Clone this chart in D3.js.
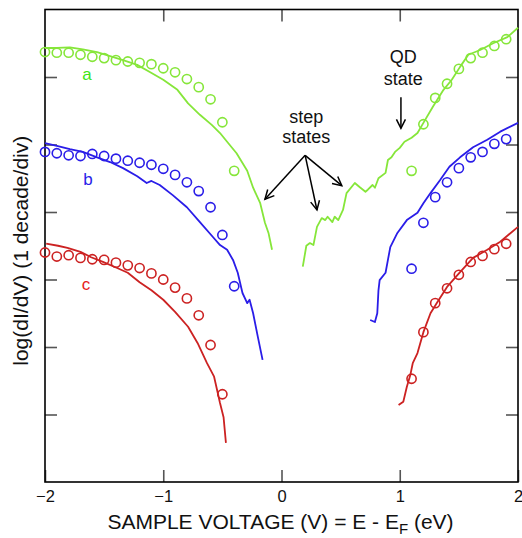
<!DOCTYPE html>
<html>
<head>
<meta charset="utf-8">
<script src="https://cdn.jsdelivr.net/npm/d3@7"></script>
<style>
  html, body { margin: 0; padding: 0; background: #fff; }
  svg { display: block; font-family: "Liberation Sans", Arial, Helvetica, sans-serif; }
</style>
</head>
<body>
<svg id="chart" width="522" height="538"></svg>
<script>
// Sample voltage (V) at which the model points are plotted
const modelVoltsNeg = [-2.0, -1.9, -1.8, -1.7, -1.6, -1.5, -1.4, -1.3, -1.2, -1.1, -1.0, -0.9, -0.8, -0.7, -0.6, -0.5, -0.4];
const modelVoltsNegC = [-2.0, -1.9, -1.8, -1.7, -1.6, -1.5, -1.4, -1.3, -1.2, -1.1, -1.0, -0.9, -0.8, -0.7, -0.6, -0.5];
const modelVoltsPos = [1.1, 1.2, 1.3, 1.4, 1.5, 1.6, 1.7, 1.8, 1.9];

// Model log(dI/dV), in decades (open circles)
const modelA_neg = [6.37, 6.36, 6.36, 6.33, 6.30, 6.28, 6.25, 6.23, 6.21, 6.19, 6.13, 6.07, 5.97, 5.85, 5.67, 5.33, 4.61];
const modelA_pos = [4.61, 5.30, 5.69, 5.90, 6.12, 6.28, 6.36, 6.46, 6.56];
const modelB_neg = [4.89, 4.87, 4.84, 4.83, 4.86, 4.83, 4.79, 4.76, 4.73, 4.70, 4.64, 4.55, 4.44, 4.31, 4.07, 3.66, 2.90];
const modelB_pos = [3.16, 3.84, 4.22, 4.44, 4.65, 4.81, 4.89, 5.01, 5.08];
const modelC_neg = [3.40, 3.34, 3.36, 3.32, 3.30, 3.29, 3.25, 3.21, 3.17, 3.09, 3.00, 2.88, 2.72, 2.47, 2.03, 1.30];
const modelC_pos = [1.53, 2.22, 2.65, 2.87, 3.07, 3.26, 3.35, 3.45, 3.53];

// Measured spectra (solid lines): voltage and log(dI/dV) per branch
const measA_neg_V = [-2.00, -1.90, -1.79, -1.68, -1.56, -1.45, -1.34, -1.22, -1.11, -1.00, -0.88, -0.79, -0.69, -0.59, -0.52, -0.46, -0.38, -0.29, -0.24, -0.18, -0.14, -0.11, -0.08];
const measA_neg_L = [6.43, 6.43, 6.44, 6.41, 6.37, 6.31, 6.25, 6.18, 6.07, 5.96, 5.81, 5.61, 5.44, 5.29, 5.17, 5.04, 4.87, 4.61, 4.36, 4.13, 3.84, 3.69, 3.44];
const measA_pos_V = [0.18, 0.21, 0.24, 0.27, 0.30, 0.34, 0.37, 0.39, 0.43, 0.45, 0.48, 0.52, 0.55, 0.62, 0.66, 0.71, 0.73, 0.77, 0.79, 0.82, 0.88, 0.90, 0.93, 0.96, 1.00, 1.04, 1.10, 1.15, 1.20, 1.28, 1.37, 1.44, 1.51, 1.58, 1.68, 1.79, 1.91, 2.00];
const measA_pos_L = [3.19, 3.50, 3.54, 3.51, 3.78, 3.91, 3.88, 3.93, 3.85, 3.93, 3.88, 4.03, 4.28, 4.43, 4.37, 4.30, 4.33, 4.40, 4.36, 4.50, 4.58, 4.77, 4.81, 4.89, 4.95, 5.04, 5.10, 5.17, 5.32, 5.56, 5.81, 5.96, 6.15, 6.33, 6.40, 6.50, 6.59, 6.73];
const measB_neg_V = [-2.00, -1.90, -1.79, -1.68, -1.56, -1.45, -1.34, -1.22, -1.14, -1.10, -1.03, -0.92, -0.80, -0.69, -0.58, -0.52, -0.46, -0.41, -0.37, -0.33, -0.29, -0.27, -0.24, -0.20, -0.16];
const measB_neg_L = [5.02, 4.98, 4.93, 4.89, 4.81, 4.74, 4.65, 4.53, 4.43, 4.46, 4.40, 4.25, 4.07, 3.85, 3.63, 3.51, 3.44, 3.29, 3.10, 2.80, 2.65, 2.70, 2.50, 2.15, 1.81];
const measB_pos_V = [0.75, 0.79, 0.81, 0.82, 0.83, 0.88, 0.90, 0.92, 0.98, 1.06, 1.15, 1.20, 1.26, 1.34, 1.42, 1.51, 1.62, 1.74, 1.85, 2.00];
const measB_pos_L = [2.40, 2.37, 2.50, 2.84, 2.99, 3.10, 3.29, 3.48, 3.69, 3.88, 3.99, 4.13, 4.28, 4.47, 4.67, 4.81, 4.96, 5.07, 5.19, 5.32];
const measC_neg_V = [-1.99, -1.89, -1.81, -1.70, -1.61, -1.51, -1.39, -1.30, -1.20, -1.10, -1.00, -0.90, -0.79, -0.71, -0.63, -0.57, -0.52, -0.49, -0.47];
const measC_neg_L = [3.53, 3.50, 3.47, 3.41, 3.33, 3.26, 3.17, 3.10, 2.96, 2.84, 2.70, 2.52, 2.30, 2.06, 1.76, 1.56, 1.17, 0.96, 0.58];
const measC_pos_V = [0.99, 1.03, 1.06, 1.09, 1.11, 1.15, 1.20, 1.26, 1.32, 1.40, 1.51, 1.62, 1.74, 1.85, 2.00];
const measC_pos_L = [1.14, 1.19, 1.41, 1.59, 1.76, 1.91, 2.22, 2.50, 2.67, 2.89, 3.11, 3.32, 3.44, 3.56, 3.78];

// Axis ticks
const xTicks = [-2, -1, 0, 1, 2];
const yTicks = [1, 2, 3, 4, 5, 6];

const colors = { a: "#86e63a", b: "#2a1de8", c: "#cc2222" };
const labelColors = { a: "#3ee614", b: "#2a1de8", c: "#e62020" };

const svg = d3.select("#chart");
const margin = { left: 45, top: 9.5, right: 4, bottom: 56 };
const W = 522, H = 538;
const x = d3.scaleLinear().domain([-2, 2]).range([margin.left, W - margin.right]);
const y = d3.scaleLinear().domain([0, 7]).range([H - margin.bottom, margin.top]);

// Inward ticks on all four sides
const tickLen = 12;
const axes = svg.append("g");
axes.append("g").attr("transform", `translate(0,${y(0)})`)
  .call(d3.axisBottom(x).tickValues(xTicks).tickSizeInner(-tickLen).tickSizeOuter(0).tickPadding(8.3).tickFormat(d3.format("d")));
axes.append("g").attr("transform", `translate(0,${y(7)})`)
  .call(d3.axisTop(x).tickValues(xTicks.slice(1, -1)).tickSizeInner(-tickLen).tickSizeOuter(0).tickFormat(""));
axes.append("g").attr("transform", `translate(${x(-2)},0)`)
  .call(d3.axisLeft(y).tickValues(yTicks).tickSizeInner(-tickLen).tickSizeOuter(0).tickFormat(""));
axes.append("g").attr("transform", `translate(${x(2)},0)`)
  .call(d3.axisRight(y).tickValues(yTicks).tickSizeInner(-tickLen).tickSizeOuter(0).tickFormat(""));
axes.selectAll(".domain").remove();
axes.selectAll(".tick line").attr("stroke", "#555").attr("stroke-width", 1.6);
axes.selectAll(".tick text").attr("font-size", 16.5).attr("fill", "#111")
  .attr("font-family", "'Liberation Sans', Arial, sans-serif");

// Frame
svg.append("rect")
  .attr("x", x(-2)).attr("y", y(7))
  .attr("width", x(2) - x(-2)).attr("height", y(0) - y(7))
  .attr("fill", "none").attr("stroke", "#000").attr("stroke-width", 1.6);

// Measured curves
const line = d3.line().x(d => x(d[0])).y(d => y(d[1]));
const branches = [
  [measA_neg_V, measA_neg_L, colors.a], [measA_pos_V, measA_pos_L, colors.a],
  [measB_neg_V, measB_neg_L, colors.b], [measB_pos_V, measB_pos_L, colors.b],
  [measC_neg_V, measC_neg_L, colors.c], [measC_pos_V, measC_pos_L, colors.c]
];
branches.forEach(([vs, ls, col]) => {
  svg.append("path")
    .attr("d", line(vs.map((v, i) => [v, ls[i]])))
    .attr("fill", "none").attr("stroke", col).attr("stroke-width", 1.8)
    .attr("stroke-linejoin", "round");
});

// Model points
const pointSets = [
  [modelVoltsNeg, modelA_neg, colors.a], [modelVoltsPos, modelA_pos, colors.a],
  [modelVoltsNeg, modelB_neg, colors.b], [modelVoltsPos, modelB_pos, colors.b],
  [modelVoltsNegC, modelC_neg, colors.c], [modelVoltsPos, modelC_pos, colors.c]
];
pointSets.forEach(([vs, ls, col]) => {
  svg.append("g").selectAll("circle")
    .data(vs.map((v, i) => [v, ls[i]]))
    .join("circle")
    .attr("cx", d => x(d[0])).attr("cy", d => y(d[1])).attr("r", 4.6)
    .attr("fill", "none").attr("stroke", col).attr("stroke-width", 1.6);
});

// Curve labels
const curveLabels = [["a", -1.645, 5.96], ["b", -1.636, 4.40], ["c", -1.653, 2.84]];
svg.append("g").selectAll("text")
  .data(curveLabels).join("text")
  .attr("x", d => x(d[1])).attr("y", d => y(d[2]))
  .attr("text-anchor", "middle").attr("font-size", 17)
  .attr("fill", d => labelColors[d[0]])
  .text(d => d[0]);

// Annotations
const defs = svg.append("defs");
defs.append("marker").attr("id", "head")
  .attr("viewBox", "-10 -6 12 12").attr("refX", 0).attr("refY", 0)
  .attr("markerWidth", 12).attr("markerHeight", 12).attr("markerUnits", "userSpaceOnUse")
  .attr("orient", "auto")
  .append("path").attr("d", "M-9,-4.5 L0,0 L-9,4.5")
  .attr("fill", "none").attr("stroke", "#000").attr("stroke-width", 1.5);

const stepOrigin = [0.20, 4.84];
const stepTips = [[-0.14, 4.19], [0.30, 4.03], [0.51, 4.39]];
stepTips.forEach(t => {
  svg.append("line")
    .attr("x1", x(stepOrigin[0])).attr("y1", y(stepOrigin[1]))
    .attr("x2", x(t[0])).attr("y2", y(t[1]))
    .attr("stroke", "#000").attr("stroke-width", 1.5)
    .attr("marker-end", "url(#head)");
});
svg.append("line")
  .attr("x1", x(1.01)).attr("y1", y(5.70))
  .attr("x2", x(1.01)).attr("y2", y(5.24))
  .attr("stroke", "#000").attr("stroke-width", 1.5)
  .attr("marker-end", "url(#head)");

const annText = [["step", 0.21, 5.32], ["states", 0.21, 5.02], ["QD", 1.03, 6.21], ["state", 1.03, 5.88]];
svg.append("g").selectAll("text")
  .data(annText).join("text")
  .attr("x", d => x(d[1])).attr("y", d => y(d[2]))
  .attr("text-anchor", "middle").attr("font-size", 18).attr("fill", "#111")
  .text(d => d[0]);

// Axis titles
const xt = svg.append("text")
  .attr("x", (x(-2) + x(2)) / 2 - 1).attr("y", 529)
  .attr("text-anchor", "middle").attr("font-size", 21).attr("fill", "#111");
xt.append("tspan").text("SAMPLE VOLTAGE (V) = E - E");
xt.append("tspan").attr("dy", 5).attr("font-size", 15).text("F");
xt.append("tspan").attr("dy", -5).text(" (eV)");

svg.append("text")
  .attr("transform", `translate(28,${(y(0) + y(7)) / 2 + 5}) rotate(-90)`)
  .attr("text-anchor", "middle").attr("font-size", 21).attr("fill", "#111")
  .text("log(dI/dV) (1 decade/div)");
</script>
</body>
</html>
